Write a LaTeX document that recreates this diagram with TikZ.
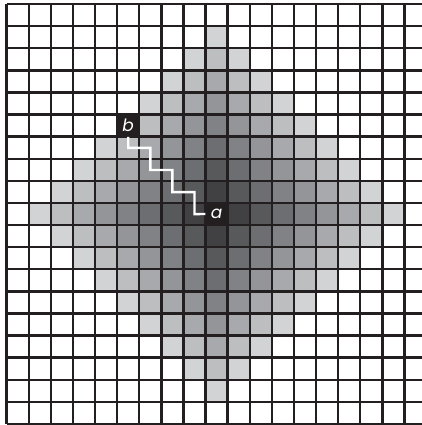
\documentclass[tikz,border=0pt]{standalone}
\usepackage{fontspec}
\newfontfamily\lblfont{Poppins}
\definecolor{g0}{HTML}{231F20}
\definecolor{g1}{HTML}{414042}
\definecolor{g2}{HTML}{58595B}
\definecolor{g3}{HTML}{6D6E71}
\definecolor{g4}{HTML}{808285}
\definecolor{g5}{HTML}{939598}
\definecolor{g6}{HTML}{A7A9AC}
\definecolor{g7}{HTML}{BCBEC0}
\definecolor{g8}{HTML}{D1D3D4}
\begin{document}
\begin{tikzpicture}[x=22.1pt,y=22.1pt,
  cellmark/.style={fill=g0,minimum size=22.1pt,inner sep=0pt,text=white,
    font=\lblfont\itshape\fontsize{17}{17}\selectfont},
  gridline/.style={draw=g0,line width=2.4pt},
  pathline/.style={draw=white,line width=2.4pt}]
\useasboundingbox (-0.303,0.181) rectangle (18.792,-19.05);
\clip (-0.303,0.181) rectangle (18.792,-19.05);
\foreach \i in {0,...,18}{
  \foreach \j in {0,...,18}{
    \pgfmathtruncatemacro{\d}{abs(\i-9)+abs(\j-9)}
    \ifnum\d<9 \fill[color=g\d] (\i,-\j) rectangle ++(1,-1); \fi
  }
}
\node[cellmark] (b) at (5.5,-5.5) {b};
\node[cellmark] (a) at (9.5,-9.5) {a};
\foreach \k in {0,...,19}{
  \draw[gridline] (\k,0) -- (\k,-19);
  \draw[gridline] (0,-\k) -- (19,-\k);
}
\draw[pathline] (b.south) -- ++(0,-0.5) -- ++(1,0) -- ++(0,-1) -- ++(1,0)
  -- ++(0,-1) -- ++(1,0) -- ++(0,-1) -- (a.west);
\end{tikzpicture}
\end{document}
